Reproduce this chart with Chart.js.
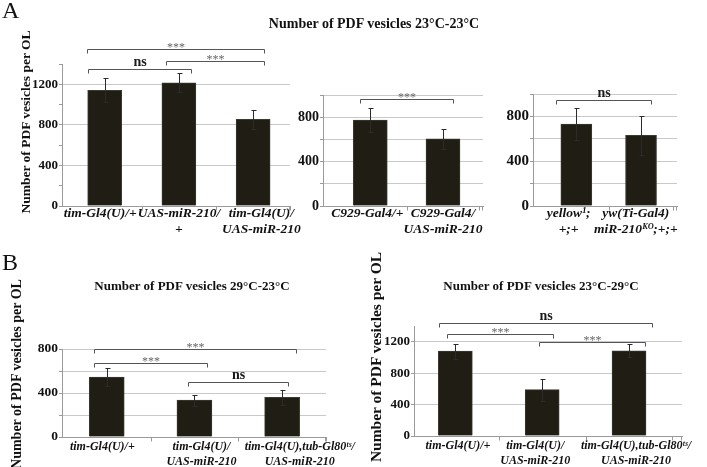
<!DOCTYPE html>
<html>
<head>
<meta charset="utf-8">
<script src="https://cdn.jsdelivr.net/npm/chart.js@4.4.1/dist/chart.umd.min.js"></script>
<style>
  html, body { margin: 0; padding: 0; background: #ffffff; }
  #wrap { position: relative; width: 707px; height: 467px; overflow: hidden; background: #fff; }
  canvas { position: absolute; left: 0; top: 0; }
  .t { position: absolute; font-family: "Liberation Serif", "Times New Roman", serif; color: #111; white-space: nowrap; }
  .title { width: 400px; height: 20px; line-height: 20px; text-align: center; font-weight: bold; }
  .ytitle { width: 240px; height: 20px; line-height: 20px; text-align: center; font-weight: bold; transform: rotate(-90deg); }
  .panel { font-size: 24px; line-height: 24px; }
</style>
</head>
<body>
<div id="wrap">
  <canvas id="cA1" width="707" height="520"></canvas>
  <canvas id="cA2" width="707" height="520"></canvas>
  <canvas id="cA3" width="707" height="520"></canvas>
  <canvas id="cB1" width="707" height="520"></canvas>
  <canvas id="cB2" width="707" height="520"></canvas>

  <div class="t panel" style="left:2px;top:-2px;">A</div>
  <div class="t panel" style="left:2px;top:250px;">B</div>
  <div class="t title" style="left:174px;top:14px;font-size:14px;">Number of PDF vesicles 23°C-23°C</div>
  <div class="t title" style="left:-8px;top:276px;font-size:13px;">Number of PDF vesicles 29°C-23°C</div>
  <div class="t title" style="left:341px;top:276px;font-size:13px;">Number of PDF vesicles 23°C-29°C</div>
  <div class="t ytitle" style="left:-94px;top:112px;font-size:13.5px;">Number of PDF vesicles per OL</div>
  <div class="t ytitle" style="left:-103px;top:364px;font-size:14px;">Number of PDF vesicles per OL</div>
  <div class="t ytitle" style="left:256px;top:347px;font-size:15.5px;">Number of PDF vesicles per OL</div>
</div>

<script>
// ---------------- DATA ----------------
// Panel A (23°C-23°C), left group
const A1_categories = ['tim-Gl4(U)/+', ['UAS-miR-210/', '+'], ['tim-Gl4(U)/', 'UAS-miR-210']];
const A1_values = [1140, 1215, 855];
const A1_errors = [118, 93, 92];
const A1_yTickLabels = [0, 400, 800, 1200];
const A1_brackets = [
  { from: 0, to: 2, level: 1548, label: '***' },
  { from: 0, to: 1, level: 1350, label: 'ns' },
  { from: 1, to: 2, level: 1429, label: '***' }
];

// Panel A, middle group
const A2_categories = ['C929-Gal4/+', ['C929-Gal4/', 'UAS-miR-210']];
const A2_values = [775, 605];
const A2_errors = [105, 90];
const A2_yTickLabels = [0, 400, 800];
const A2_brackets = [ { from: 0, to: 1, level: 965, label: '***' } ];

// Panel A, right group
const A3_categories = [['yellow\u00B9;', '+;+'], ['yw(Ti-Gal4)', 'miR-210\u1D37\u1D3C;+;+']];
const A3_values = [732, 630];
const A3_errors = [147, 178];
const A3_yTickLabels = [0, 400, 800];
const A3_brackets = [ { from: 0, to: 1, level: 942, label: 'ns' } ];

// Panel B, 29°C-23°C
const B1_categories = ['tim-Gl4(U)/+', ['tim-Gl4(U)/', 'UAS-miR-210'], ['tim-Gl4(U),tub-Gl80\u1D57\u02E2/', 'UAS-miR-210']];
const B1_values = [545, 335, 360];
const B1_errors = [85, 50, 70];
const B1_yTickLabels = [0, 400, 800];
const B1_brackets = [
  { from: 0, to: 2, level: 800, label: '***' },
  { from: 0, to: 1, level: 670, label: '***' },
  { from: 1, to: 2, level: 498, label: 'ns' }
];

// Panel B, 23°C-29°C
const B2_categories = ['tim-Gl4(U)/+', ['tim-Gl4(U)/', 'UAS-miR-210'], ['tim-Gl4(U),tub-Gl80\u1D57\u02E2/', 'UAS-miR-210']];
const B2_values = [1080, 590, 1085];
const B2_errors = [95, 140, 85];
const B2_yTickLabels = [0, 400, 800, 1200];
const B2_brackets = [
  { from: 0, to: 2, level: 1441, label: 'ns' },
  { from: 0, to: 1, level: 1294, label: '***' },
  { from: 1, to: 2, level: 1200, label: '***' }
];

// ---------------- STYLE / LAYOUT ----------------
const BAR = '#1f1d14';
const BAR_EDGE = '#3b392f';
const GRID = '#c9c9c9';
const AXIS = '#9a9a9a';
const SERIF = '"Liberation Serif", "Times New Roman", serif';
const W = 707, H = 520, YW = 40, XH = 50;

const LAYOUT = {
  A1: { left: 62, right: 290, top: 64, bottom: 206, xMin: -0.575, xMax: 2.497, yMax: 1400, gridStep: 400,
        barPx: 34, yFont: 13, xFont: 13.5, xLine: 1.15, xPad: 0, labelShift: [-0.06, 0, 0.11],
        bOff: [[-0.24, 0.14], [-0.23, 0.16], [-0.17, 0.15]] },
  A2: { left: 323, right: 483, top: 95, bottom: 206, xMin: -0.65, xMax: 1.55, yMax: 1000, gridStep: 200,
        barPx: 34, yFont: 14, xFont: 13.5, xLine: 1.15, xPad: 0, labelShift: [-0.04, 0],
        bOff: [[-0.14, 0.14]] },
  A3: { left: 533, right: 677, top: 94, bottom: 206, xMin: -0.67, xMax: 1.556, yMax: 1000, gridStep: 200,
        barPx: 31, yFont: 15, xFont: 13.5, xLine: 1.15, xPad: 0, labelShift: [-0.12, -0.08],
        bOff: [[-0.31, 0.15]] },
  B1: { left: 62, right: 326, top: 349, bottom: 437, xMin: -0.51, xMax: 2.5, yMax: 800, gridStep: 200,
        barPx: 35, yFont: 13.5, xFont: 12, xLine: 1.2, xPad: 3, labelShift: [-0.05, 0.08, 0.2],
        bOff: [[-0.14, 0.16], [-0.14, 0.14], [-0.07, 0.07]] },
  B2: { left: 414, right: 682, top: 326, bottom: 436, xMin: -0.476, xMax: 2.61, yMax: 1400, gridStep: 400,
        barPx: 34, yFont: 13, xFont: 12, xLine: 1.2, xPad: 3, labelShift: [0.03, -0.08, 0.08],
        bOff: [[-0.185, 0.27], [-0.1, 0.12], [-0.04, 0.18]] }
};

const errorBarPlugin = {
  id: 'errorBars',
  afterDatasetsDraw(chart) {
    const ds = chart.data.datasets[0];
    const meta = chart.getDatasetMeta(0);
    const ys = chart.scales.y, xs = chart.scales.x;
    const c = chart.ctx;
    c.save();
    // small category separator marks under the x axis
    c.strokeStyle = AXIS;
    c.lineWidth = 1;
    const yAxis = Math.round(chart.chartArea.bottom) + 0.5;
    c.beginPath();
    for (let i = 0; i < meta.data.length; i++) {
      const xb = Math.round(xs.getPixelForValue(i + 0.5)) + 0.5;
      c.moveTo(xb, yAxis); c.lineTo(xb, yAxis + 4);
    }
    const xe = Math.round(chart.chartArea.right) - 0.5;
    c.moveTo(xe, yAxis); c.lineTo(xe, yAxis + 4);
    c.stroke();
    // error bars
    c.strokeStyle = '#2b2b2b';
    meta.data.forEach((bar, i) => {
      const v = ds.data[i].y, e = ds.errors[i];
      const x = Math.round(bar.x) + 0.5;
      const yt = Math.round(ys.getPixelForValue(v + e)) + 0.5;
      const yb = Math.round(ys.getPixelForValue(v - e)) + 0.5;
      c.beginPath();
      c.moveTo(x, yt); c.lineTo(x, yb);
      c.moveTo(x - 2, yt); c.lineTo(x + 3, yt);
      c.moveTo(x - 2, yb); c.lineTo(x + 3, yb);
      c.stroke();
    });
    c.restore();
  }
};

function bracketPlugin(brackets, L) {
  return {
    id: 'sigBrackets',
    afterDraw(chart) {
      const xs = chart.scales.x, ys = chart.scales.y, c = chart.ctx;
      c.save();
      brackets.forEach((b, k) => {
        const off = L.bOff[k];
        const xl = Math.round(xs.getPixelForValue(b.from + off[0])) + 0.5;
        const xr = Math.round(xs.getPixelForValue(b.to + off[1])) + 0.5;
        const yy = Math.round(ys.getPixelForValue(b.level)) + 0.5;
        c.strokeStyle = '#555';
        c.lineWidth = 1;
        c.beginPath();
        c.moveTo(xl, yy + 4); c.lineTo(xl, yy); c.lineTo(xr, yy); c.lineTo(xr, yy + 4);
        c.stroke();
        c.textAlign = 'center';
        c.textBaseline = 'alphabetic';
        const cx = (xl + xr) / 2;
        if (b.label === 'ns') {
          c.font = 'bold 14px ' + SERIF;
          c.fillStyle = '#1a1a1a';
          c.fillText(b.label, cx, yy - 4);
        } else {
          c.font = '12px ' + SERIF;
          c.fillStyle = '#666';
          c.fillText(b.label, cx, yy + 1);
        }
      });
      c.restore();
    }
  };
}

function makePanel(id, cats, vals, errs, brackets, yTickLabels, L) {
  return new Chart(document.getElementById(id), {
    type: 'bar',
    data: {
      datasets: [{
        data: vals.map((v, i) => ({ x: i, y: v })),
        errors: errs,
        backgroundColor: BAR,
        borderColor: BAR_EDGE,
        borderWidth: 1,
        barThickness: L.barPx
      }]
    },
    options: {
      responsive: false,
      animation: false,
      devicePixelRatio: 1,
      layout: { padding: { left: L.left - YW, right: W - L.right, top: L.top, bottom: H - L.bottom - XH } },
      plugins: { legend: { display: false }, tooltip: { enabled: false }, title: { display: false } },
      scales: {
        x: {
          type: 'linear',
          offset: false,
          min: L.xMin,
          max: L.xMax,
          grid: { display: false, drawTicks: false, tickLength: 0 },
          border: { display: true, color: AXIS, width: 1 },
          afterBuildTicks: (ax) => { ax.ticks = cats.map((c, i) => ({ value: i + L.labelShift[i] })); },
          afterFit: (s) => { s.height = XH; s.paddingLeft = 0; s.paddingRight = 0; },
          ticks: {
            autoSkip: false, maxRotation: 0, minRotation: 0, padding: L.xPad,
            color: '#111',
            font: { family: SERIF, size: L.xFont, weight: 'bold', style: 'italic', lineHeight: L.xLine },
            callback: (v, i) => cats[i]
          }
        },
        y: {
          min: 0,
          max: L.yMax,
          ticks: {
            stepSize: 200, padding: 1, color: '#111',
            font: { family: SERIF, size: L.yFont, weight: 'bold' },
            callback: (v) => yTickLabels.includes(v) ? String(v) : ''
          },
          grid: {
            color: (ctx) => (ctx.tick && ctx.tick.value > 0 && ctx.tick.value % L.gridStep === 0) ? GRID : 'rgba(0,0,0,0)',
            drawTicks: true, tickLength: 3, tickColor: AXIS, lineWidth: 1
          },
          border: { display: true, color: AXIS, width: 1 },
          afterFit: (s) => { s.width = YW; s.paddingTop = 0; s.paddingBottom = 0; }
        }
      }
    },
    plugins: [errorBarPlugin, bracketPlugin(brackets, L)]
  });
}

makePanel('cA1', A1_categories, A1_values, A1_errors, A1_brackets, A1_yTickLabels, LAYOUT.A1);
makePanel('cA2', A2_categories, A2_values, A2_errors, A2_brackets, A2_yTickLabels, LAYOUT.A2);
makePanel('cA3', A3_categories, A3_values, A3_errors, A3_brackets, A3_yTickLabels, LAYOUT.A3);
makePanel('cB1', B1_categories, B1_values, B1_errors, B1_brackets, B1_yTickLabels, LAYOUT.B1);
makePanel('cB2', B2_categories, B2_values, B2_errors, B2_brackets, B2_yTickLabels, LAYOUT.B2);
</script>
</body>
</html>
